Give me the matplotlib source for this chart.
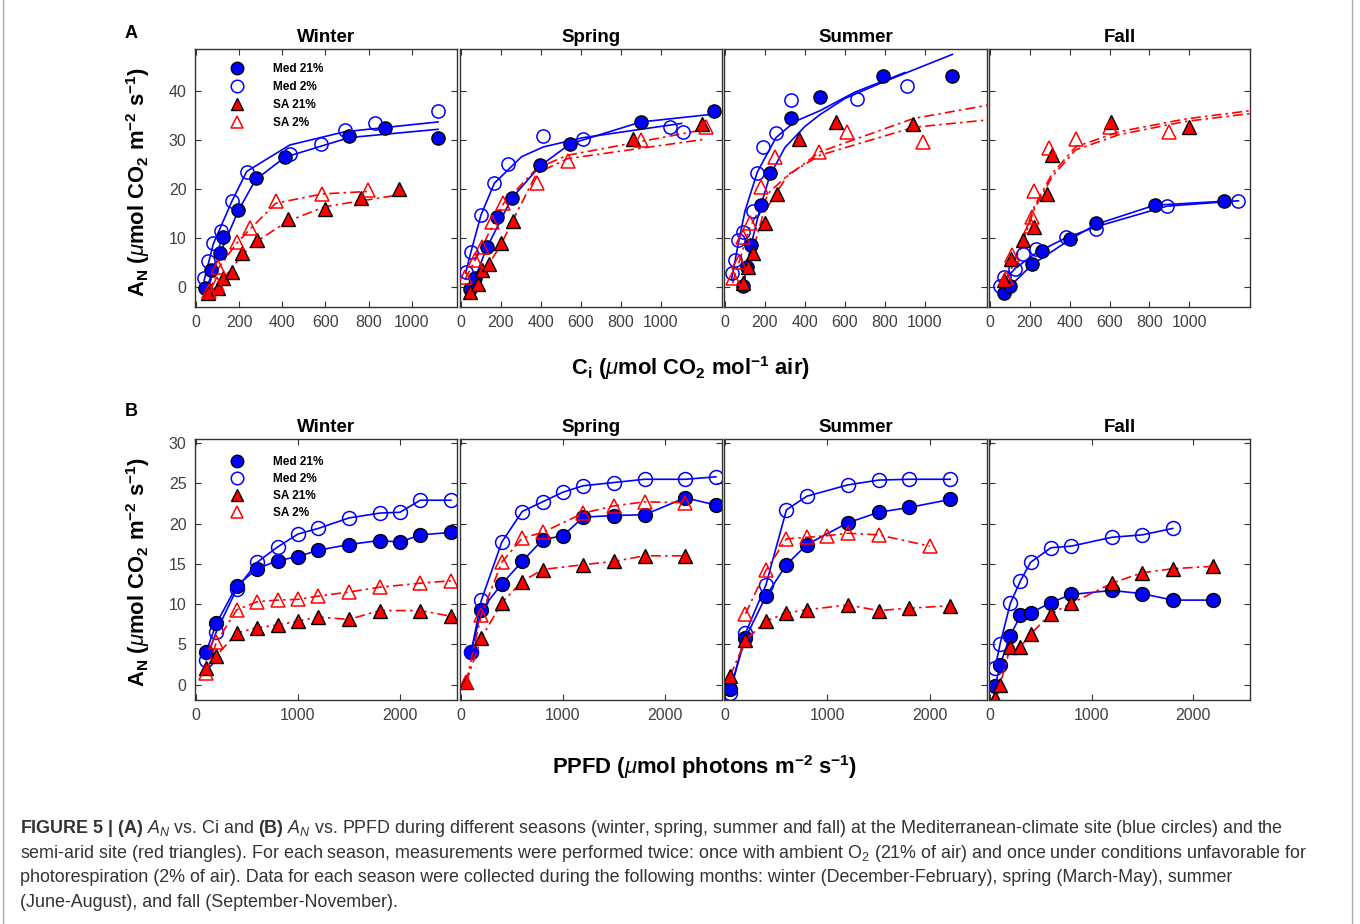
import matplotlib
matplotlib.use('Agg')
import matplotlib.pyplot as plt
from matplotlib.lines import Line2D

plt.rcParams['font.family'] = ['Liberation Sans', 'DejaVu Sans']
plt.rcParams['mathtext.fontset'] = 'custom'
plt.rcParams['mathtext.rm'] = 'Liberation Sans'
plt.rcParams['mathtext.it'] = 'Liberation Sans:italic'
plt.rcParams['mathtext.bf'] = 'Liberation Sans:bold'

seasons = ['Winter', 'Spring', 'Summer', 'Fall']
series_labels = ['Med 21%', 'Med 2%', 'SA 21%', 'SA 2%']

# ---- panel A : A_N vs Ci (points + fitted curves) ----
ci_win_m21 = [42, 68, 111, 126, 196, 276, 412, 710, 878, 1122]
an_win_m21 = [-0.3, 3.5, 7.0, 10.3, 15.8, 22.2, 26.6, 30.8, 32.4, 30.5]
ci_win_m2 = [37, 57, 80, 116, 165, 235, 435, 579, 690, 832, 1122]
an_win_m2 = [1.8, 5.2, 8.9, 11.4, 17.6, 23.5, 27.1, 29.2, 32.0, 33.4, 36.0]
ci_win_s21 = [57, 103, 126, 165, 214, 281, 424, 597, 764, 940]
an_win_s21 = [-1.3, -0.3, 1.8, 3.1, 6.9, 9.6, 13.8, 15.9, 18.1, 20.1]
ci_win_s2 = [62, 99, 103, 188, 250, 370, 586, 798]
an_win_s2 = [-0.9, 0.7, 4.0, 9.2, 12.0, 17.6, 19.0, 19.9]
fitx_win_m21 = [42, 111, 196, 276, 412, 710, 1122]
fity_win_m21 = [-0.9, 6.8, 15.6, 21.9, 26.5, 30.5, 32.2]
fitx_win_m2 = [37, 80, 165, 235, 435, 690, 1122]
fity_win_m2 = [1.3, 8.8, 17.4, 23.6, 29.0, 31.7, 33.7]
fitx_win_s21 = [57, 126, 214, 281, 424, 597, 940]
fity_win_s21 = [-1.6, 1.6, 6.6, 9.3, 13.4, 16.4, 18.8]
fitx_win_s2 = [62, 103, 188, 250, 370, 586, 798]
fity_win_s2 = [-1.0, 3.8, 8.9, 11.8, 17.1, 19.0, 19.5]

ci_spr_m21 = [45, 70, 128, 178, 253, 395, 545, 900, 1265]
an_spr_m21 = [-0.5, 1.8, 8.1, 14.3, 18.1, 24.9, 29.2, 33.7, 36.0]
ci_spr_m2 = [23, 50, 100, 167, 237, 412, 612, 1045, 1108]
an_spr_m2 = [3.1, 7.2, 14.7, 21.3, 25.2, 30.8, 30.3, 32.6, 31.7]
ci_spr_s21 = [45, 87, 107, 142, 198, 262, 862, 1203]
an_spr_s21 = [-1.1, 0.5, 3.5, 4.7, 8.9, 13.5, 30.2, 33.3]
ci_spr_s2 = [20, 70, 103, 153, 212, 378, 533, 900, 1225]
an_spr_s2 = [2.0, 5.4, 8.2, 13.3, 17.1, 21.3, 25.8, 30.0, 32.6]
fitx_spr_m21 = [45, 128, 253, 395, 545, 900, 1265]
fity_spr_m21 = [-0.8, 7.9, 18.1, 24.7, 29.2, 33.7, 35.3]
fitx_spr_m2 = [23, 50, 100, 167, 303, 412, 612, 1103]
fity_spr_m2 = [2.8, 7.2, 14.7, 21.2, 26.6, 28.6, 30.5, 33.4]
fitx_spr_s21 = [45, 198, 262, 378, 533, 1225]
fity_spr_s21 = [-1.4, 8.5, 13.8, 23.2, 26.2, 30.2]
fitx_spr_s2 = [20, 103, 212, 378, 533, 1225]
fity_spr_s2 = [1.5, 8.0, 17.0, 24.2, 26.9, 32.2]

ci_sum_m21 = [88, 108, 130, 178, 225, 328, 475, 788, 1137]
an_sum_m21 = [0.1, 4.1, 8.6, 16.7, 23.3, 34.6, 38.7, 43.1, 43.1]
ci_sum_m2 = [33, 50, 67, 92, 138, 162, 192, 255, 328, 658, 912]
an_sum_m2 = [2.8, 5.5, 9.6, 11.3, 15.6, 23.2, 28.6, 31.4, 38.2, 38.3, 41.0]
ci_sum_s21 = [88, 117, 142, 200, 262, 372, 555, 938]
an_sum_s21 = [0.9, 4.0, 6.9, 13.1, 19.0, 30.3, 33.7, 33.3]
ci_sum_s2 = [38, 72, 92, 125, 180, 250, 472, 608, 992]
an_sum_s2 = [1.8, 5.0, 10.3, 13.1, 20.5, 26.6, 27.6, 31.7, 29.7]
fitx_sum_m21 = [88, 130, 178, 225, 300, 400, 475, 600, 788, 1137]
fity_sum_m21 = [-0.3, 8.5, 16.5, 22.8, 28.5, 32.8, 35.2, 38.5, 41.8, 47.5]
fitx_sum_m2 = [33, 67, 100, 162, 255, 350, 475, 650, 900]
fity_sum_m2 = [1.5, 9.0, 15.5, 23.5, 30.5, 33.8, 36.0, 39.8, 43.8]
fitx_sum_s21 = [88, 192, 308, 475, 942, 1310]
fity_sum_s21 = [0.2, 15.0, 22.5, 27.6, 34.4, 37.1]
fitx_sum_s2 = [38, 125, 225, 325, 475, 942, 1310]
fity_sum_s2 = [0.8, 12.3, 19.5, 23.2, 26.9, 32.6, 34.1]

ci_fal_m21 = [72, 100, 210, 260, 402, 533, 827, 1177]
an_fal_m21 = [-1.3, 0.1, 4.7, 7.4, 9.7, 13.1, 16.7, 17.6]
ci_fal_m2 = [50, 72, 127, 167, 233, 380, 533, 888, 1247]
an_fal_m2 = [0.1, 2.0, 3.6, 6.7, 7.7, 10.3, 11.8, 16.5, 17.6]
ci_fal_s21 = [72, 105, 167, 222, 288, 313, 605, 1000]
an_fal_s21 = [1.4, 5.8, 9.6, 12.3, 19.0, 26.9, 33.7, 32.6]
ci_fal_s2 = [80, 110, 205, 213, 222, 297, 430, 600, 897]
an_fal_s2 = [1.8, 6.5, 12.5, 14.3, 19.5, 28.3, 30.3, 32.6, 31.7]
fitx_fal_m21 = [72, 210, 402, 533, 827, 1177]
fity_fal_m21 = [-1.0, 4.5, 9.7, 12.8, 16.7, 17.5]
fitx_fal_m2 = [50, 127, 233, 380, 533, 888, 1247]
fity_fal_m2 = [0.3, 3.8, 7.0, 10.0, 12.3, 16.5, 17.6]
fitx_fal_s21 = [80, 163, 222, 313, 430, 647, 980, 1305]
fity_fal_s21 = [1.4, 9.6, 16.4, 23.2, 28.6, 31.7, 34.3, 36.0]
fitx_fal_s2 = [80, 163, 222, 313, 430, 647, 980, 1305]
fity_fal_s2 = [1.0, 9.0, 15.8, 22.6, 28.0, 31.1, 33.8, 35.4]

# ---- panel B : A_N vs PPFD ----
pp_win_m21 = [100, 200, 400, 600, 800, 1000, 1200, 1500, 1800, 2000, 2200, 2500]
ap_win_m21 = [4.1, 7.6, 12.3, 14.4, 15.4, 15.9, 16.7, 17.4, 17.9, 17.7, 18.6, 18.9]
pp_win_m2 = [100, 200, 400, 600, 800, 1000, 1200, 1500, 1800, 2000, 2200, 2500]
ap_win_m2 = [3.1, 6.6, 11.9, 15.2, 17.1, 18.7, 19.4, 20.7, 21.3, 21.4, 22.9, 22.9]
pp_win_s21 = [100, 200, 400, 600, 800, 1000, 1200, 1500, 1800, 2200, 2500]
ap_win_s21 = [2.1, 3.6, 6.4, 7.1, 7.4, 7.9, 8.4, 8.1, 9.2, 9.2, 8.5]
pp_win_s2 = [100, 200, 400, 600, 800, 1000, 1200, 1500, 1800, 2200, 2500]
ap_win_s2 = [1.5, 5.3, 9.3, 10.3, 10.5, 10.6, 11.0, 11.5, 12.1, 12.6, 12.9]

pp_spr_m21 = [100, 200, 400, 600, 800, 1000, 1200, 1500, 1800, 2200, 2500]
ap_spr_m21 = [4.1, 9.3, 12.5, 15.3, 18.0, 18.5, 20.8, 21.0, 21.1, 23.2, 22.3]
pp_spr_m2 = [100, 200, 400, 600, 800, 1000, 1200, 1500, 1800, 2200, 2500]
ap_spr_m2 = [4.1, 10.5, 17.7, 21.5, 22.7, 23.9, 24.7, 25.1, 25.5, 25.5, 25.8]
pp_spr_s21 = [50, 200, 400, 600, 800, 1200, 1500, 1800, 2200]
ap_spr_s21 = [0.3, 5.8, 10.2, 12.8, 14.3, 14.9, 15.3, 16.0, 16.0]
pp_spr_s2 = [50, 200, 400, 600, 800, 1200, 1500, 1800, 2200]
ap_spr_s2 = [0.3, 8.7, 15.2, 18.2, 18.9, 21.3, 22.2, 22.7, 22.6]

pp_sum_m21 = [50, 200, 400, 600, 800, 1200, 1500, 1800, 2200]
ap_sum_m21 = [-0.5, 5.8, 11.0, 14.9, 17.4, 20.1, 21.4, 22.0, 23.0]
pp_sum_m2 = [50, 200, 400, 600, 800, 1200, 1500, 1800, 2200]
ap_sum_m2 = [-1.0, 6.4, 12.4, 21.7, 23.4, 24.8, 25.4, 25.5, 25.5]
pp_sum_s21 = [50, 200, 400, 600, 800, 1200, 1500, 1800, 2200]
ap_sum_s21 = [1.1, 5.5, 7.9, 8.9, 9.3, 9.9, 9.2, 9.5, 9.8]
pp_sum_s2 = [200, 400, 600, 800, 1000, 1200, 1500, 2000]
ap_sum_s2 = [8.8, 14.2, 18.1, 18.3, 18.5, 18.8, 18.6, 17.2]

pp_fal_m21 = [50, 100, 200, 300, 400, 600, 800, 1200, 1500, 1800, 2200]
ap_fal_m21 = [-0.2, 2.5, 6.1, 8.6, 8.9, 10.2, 11.2, 11.7, 11.3, 10.5, 10.5]
pp_fal_m2 = [50, 100, 200, 300, 400, 600, 800, 1200, 1500, 1800]
ap_fal_m2 = [2.1, 5.1, 10.1, 12.9, 15.2, 17.0, 17.2, 18.3, 18.6, 19.4]
pp_fal_s21 = [50, 100, 200, 300, 400, 600, 800, 1200, 1500, 1800, 2200]
ap_fal_s21 = [-1.7, 0.0, 4.7, 4.7, 6.3, 8.8, 10.1, 12.6, 13.9, 14.4, 14.7]

ci_sets = [
    [(ci_win_m21, an_win_m21, fitx_win_m21, fity_win_m21), (ci_win_m2, an_win_m2, fitx_win_m2, fity_win_m2),
     (ci_win_s21, an_win_s21, fitx_win_s21, fity_win_s21), (ci_win_s2, an_win_s2, fitx_win_s2, fity_win_s2)],
    [(ci_spr_m21, an_spr_m21, fitx_spr_m21, fity_spr_m21), (ci_spr_m2, an_spr_m2, fitx_spr_m2, fity_spr_m2),
     (ci_spr_s21, an_spr_s21, fitx_spr_s21, fity_spr_s21), (ci_spr_s2, an_spr_s2, fitx_spr_s2, fity_spr_s2)],
    [(ci_sum_m21, an_sum_m21, fitx_sum_m21, fity_sum_m21), (ci_sum_m2, an_sum_m2, fitx_sum_m2, fity_sum_m2),
     (ci_sum_s21, an_sum_s21, fitx_sum_s21, fity_sum_s21), (ci_sum_s2, an_sum_s2, fitx_sum_s2, fity_sum_s2)],
    [(ci_fal_m21, an_fal_m21, fitx_fal_m21, fity_fal_m21), (ci_fal_m2, an_fal_m2, fitx_fal_m2, fity_fal_m2),
     (ci_fal_s21, an_fal_s21, fitx_fal_s21, fity_fal_s21), (ci_fal_s2, an_fal_s2, fitx_fal_s2, fity_fal_s2)],
]
pp_sets = [
    [(pp_win_m21, ap_win_m21), (pp_win_m2, ap_win_m2), (pp_win_s21, ap_win_s21), (pp_win_s2, ap_win_s2)],
    [(pp_spr_m21, ap_spr_m21), (pp_spr_m2, ap_spr_m2), (pp_spr_s21, ap_spr_s21), (pp_spr_s2, ap_spr_s2)],
    [(pp_sum_m21, ap_sum_m21), (pp_sum_m2, ap_sum_m2), (pp_sum_s21, ap_sum_s21), (pp_sum_s2, ap_sum_s2)],
    [(pp_fal_m21, ap_fal_m21), (pp_fal_m2, ap_fal_m2), (pp_fal_s21, ap_fal_s21), None],
]

BLUE = '#0000ff'
RED = '#ff0000'
DASHDOT = (0, (6, 2.5, 1.5, 2.5))
marker_styles = [
    dict(marker='o', mfc=BLUE, mec='black', mew=1.0),
    dict(marker='o', mfc='none', mec=BLUE, mew=1.1),
    dict(marker='^', mfc=RED, mec='black', mew=1.0),
    dict(marker='^', mfc='none', mec=RED, mew=1.1),
]
line_styles = [
    dict(color=BLUE, ls='-', lw=1.2),
    dict(color=BLUE, ls='-', lw=1.2),
    dict(color=RED, ls=DASHDOT, lw=1.2),
    dict(color=RED, ls=DASHDOT, lw=1.2),
]

W, H = 1360, 924
fig = plt.figure(figsize=(W / 100, H / 100), dpi=100)
fig.patch.set_facecolor('white')

col_l = [195, 460, 724, 989]
col_r = [457, 722, 987, 1250]
ci_xlims = [(-5, 1210), (-5, 1305), (-5, 1310), (-5, 1305)]


def px_axes(l, t, r, b):
    return fig.add_axes([l / W, 1 - b / H, (r - l) / W, (b - t) / H])


def style_axes(ax, first):
    for sp in ax.spines.values():
        sp.set_color('#333333')
        sp.set_linewidth(1.0)
    ax.tick_params(direction='in', top=True, right=True, length=4, width=0.8,
                   color='#333333', labelcolor='#404040', labelsize=11.5, pad=6)
    if not first:
        ax.tick_params(labelleft=False)


legend_handles = [Line2D([], [], ls='none', ms=9, **m) for m in marker_styles]
leg_kw = dict(loc='upper left', frameon=False, prop={'weight': 'bold', 'size': 8.5},
              handlelength=1.0, handletextpad=2.6, borderpad=0, borderaxespad=0)

for i, s in enumerate(seasons):
    # top row
    ax = px_axes(col_l[i], 49, col_r[i], 307)
    for k, (x, y, fx, fy) in enumerate(ci_sets[i]):
        ax.plot(fx, fy, zorder=2, **line_styles[k])
    for k, (x, y, fx, fy) in enumerate(ci_sets[i]):
        ax.plot(x, y, ls='none', ms=9.5, zorder=3, **marker_styles[k])
    ax.set_xlim(*ci_xlims[i])
    ax.set_ylim(-4.1, 48.6)
    ax.set_xticks([0, 200, 400, 600, 800, 1000])
    ax.set_yticks([0, 10, 20, 30, 40])
    style_axes(ax, i == 0)
    ax.set_title(s, fontsize=13.5, fontweight='bold', pad=5)
    if i == 0:
        ax.legend(legend_handles, series_labels, bbox_to_anchor=(0.137, 0.944),
                  labelspacing=0.5, **leg_kw)

    # bottom row
    ax = px_axes(col_l[i], 439, col_r[i], 700)
    for k, d in enumerate(pp_sets[i]):
        if d is None:
            continue
        ax.plot(d[0], d[1], ms=10, **line_styles[k], **marker_styles[k])
    ax.set_xlim(-10, 2560)
    ax.set_ylim(-1.9, 30.5)
    ax.set_xticks([0, 1000, 2000])
    ax.set_yticks([0, 5, 10, 15, 20, 25, 30])
    style_axes(ax, i == 0)
    ax.set_title(s, fontsize=13.5, fontweight='bold', pad=5)
    if i == 0:
        ax.legend(legend_handles, series_labels, bbox_to_anchor=(0.137, 0.935),
                  labelspacing=0.42, **leg_kw)


def ftext(x, y, s, **kw):
    return fig.text(x / W, 1 - y / H, s, **kw)


ftext(131, 33, 'A', fontsize=13, fontweight='bold', ha='center', va='center')
ftext(131, 412, 'B', fontsize=13, fontweight='bold', ha='center', va='center')

ylab = r'$\mathbf{A_N\ (}\mu\mathbf{mol\ CO_2\ m^{-2}\ s^{-1})}$'
ftext(138, 182, ylab, fontsize=15.8, rotation=90, ha='center', va='center')
ftext(138, 572, ylab, fontsize=15.8, rotation=90, ha='center', va='center')
ftext(690, 368, r'$\mathbf{C_i\ (}\mu\mathbf{mol\ CO_2\ mol^{-1}\ air)}$', fontsize=15.8,
      ha='center', va='center')
ftext(705, 767, r'$\mathbf{PPFD\ (}\mu\mathbf{mol\ photons\ m^{-2}\ s^{-1})}$', fontsize=15.8,
      ha='center', va='center')

caption = [
    r'$\mathbf{FIGURE\ 5\ |\ (A)}$ $A_N$ vs. Ci and $\mathbf{(B)}$ $A_N$ vs. PPFD during different seasons '
    r'(winter, spring, summer and fall) at the Mediterranean-climate site (blue circles) and the',
    r'semi-arid site (red triangles). For each season, measurements were performed twice: once with ambient '
    r'O$_2$ (21% of air) and once under conditions unfavorable for',
    'photorespiration (2% of air). Data for each season were collected during the following months: '
    'winter (December-February), spring (March-May), summer',
    '(June-August), and fall (September-November).',
]
for j, line in enumerate(caption):
    ftext(20, 833 + j * 24.7, line, fontsize=12.9, color='#333333', ha='left', va='baseline')

fig.add_artist(Line2D([3 / W, 3 / W], [0, 1], color='#aaaaaa', lw=1))
fig.add_artist(Line2D([1352 / W, 1352 / W], [0, 1], color='#aaaaaa', lw=1))

fig.savefig('out.png', dpi=100)
